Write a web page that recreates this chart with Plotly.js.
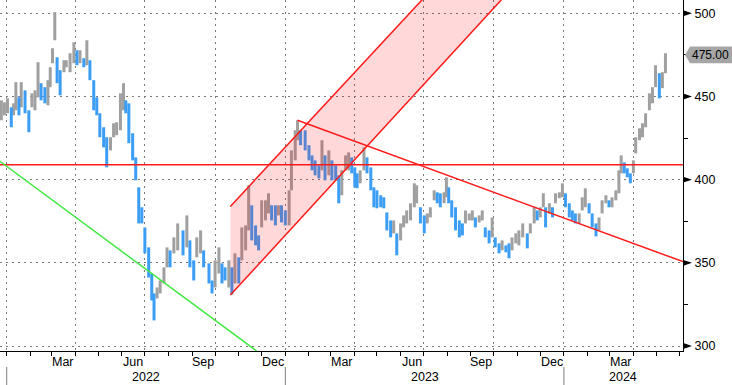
<!DOCTYPE html>
<html><head><meta charset="utf-8">
<script src="https://cdn.plot.ly/plotly-3.0.1.min.js"></script>
<style>html,body{margin:0;padding:0;background:#fff}#chart{width:732px;height:385px}</style>
</head><body><div id="chart"></div>
<script>
// ---- data ----
const dates = [
'2021-12-25','2021-12-29','2022-01-02','2022-01-07','2022-01-10','2022-01-13','2022-01-17','2022-01-20','2022-01-25','2022-01-30',
'2022-02-03','2022-02-07','2022-02-11','2022-02-15','2022-02-20','2022-02-24','2022-02-27','2022-03-02','2022-03-05','2022-03-08',
'2022-03-12','2022-03-17','2022-03-20','2022-03-25','2022-03-30','2022-04-03','2022-04-07','2022-04-12','2022-04-16','2022-04-20',
'2022-04-25','2022-04-29','2022-05-03','2022-05-08','2022-05-12','2022-05-17','2022-05-21','2022-05-25','2022-05-30','2022-06-03',
'2022-06-06','2022-06-10','2022-06-15','2022-06-19','2022-06-23','2022-06-27','2022-07-01','2022-07-06','2022-07-10','2022-07-13',
'2022-07-17','2022-07-21','2022-07-26','2022-07-30','2022-08-03','2022-08-08','2022-08-13','2022-08-20','2022-08-25','2022-08-29',
'2022-09-03','2022-09-07','2022-09-12','2022-09-16','2022-09-23','2022-09-27','2022-10-01','2022-10-06','2022-10-10','2022-10-14',
'2022-10-19','2022-10-23','2022-10-27','2022-11-01','2022-11-05','2022-11-10','2022-11-14','2022-11-18','2022-11-23','2022-11-27',
'2022-12-01','2022-12-06','2022-12-10','2022-12-14','2022-12-19','2022-12-23','2022-12-27','2023-01-01','2023-01-06','2023-01-09',
'2023-01-14','2023-01-17','2023-01-21','2023-01-27','2023-02-01','2023-02-05','2023-02-09','2023-02-14','2023-02-18','2023-02-22',
'2023-02-27','2023-03-03','2023-03-08','2023-03-12','2023-03-16','2023-03-21','2023-03-25','2023-03-29','2023-04-02','2023-04-05',
'2023-04-09','2023-04-14','2023-04-18','2023-04-23','2023-04-27','2023-05-01','2023-05-06','2023-05-10','2023-05-14','2023-05-19',
'2023-05-23','2023-05-27','2023-06-01','2023-06-05','2023-06-09','2023-06-14','2023-06-19','2023-06-22','2023-06-27','2023-07-02',
'2023-07-06','2023-07-10','2023-07-15','2023-07-19','2023-07-23','2023-07-28','2023-07-31','2023-08-03','2023-08-07','2023-08-12',
'2023-08-17','2023-08-21','2023-08-25','2023-08-30','2023-09-03','2023-09-07','2023-09-12','2023-09-16','2023-09-20','2023-09-25',
'2023-09-29','2023-10-03','2023-10-08','2023-10-12','2023-10-17','2023-10-21','2023-10-25','2023-10-30','2023-11-03','2023-11-08',
'2023-11-14','2023-11-18','2023-11-23','2023-11-27','2023-12-01','2023-12-05','2023-12-08','2023-12-13','2023-12-17','2023-12-21',
'2023-12-26','2023-12-30','2024-01-03','2024-01-08','2024-01-12','2024-01-16','2024-01-21','2024-01-25','2024-01-29','2024-02-03',
'2024-02-07','2024-02-12','2024-02-16','2024-02-20','2024-02-25','2024-02-29','2024-03-04','2024-03-09','2024-03-13','2024-03-16',
'2024-03-20','2024-03-24','2024-03-28','2024-04-01','2024-04-04','2024-04-09','2024-04-13','2024-04-17','2024-04-22','2024-04-26',
'2024-04-30','2024-05-05','2024-05-09','2024-05-13'];

const highs = [
447.7,446.5,448.9,443.5,445.9,458.6,449.5,458.6,453.7,441.7,
451.9,453.7,470.6,458.0,455.6,459.8,467.6,479.0,500.7,473.6,
465.8,471.8,471.8,476.0,482.6,477.8,477.8,473.0,483.8,471.8,
459.8,449.5,439.9,431.5,425.5,425.5,433.9,434.5,451.9,458.0,
447.7,445.9,427.9,413.4,395.4,383.4,371.3,359.3,343.6,331.6,
335.2,339.4,347.3,359.3,357.5,365.3,373.7,369.5,378.5,363.5,
351.5,365.3,369.5,357.5,349.7,339.4,351.5,359.3,349.7,347.3,
351.5,347.3,355.7,353.3,371.3,372.5,396.6,384.6,372.5,366.5,
387.6,387.6,391.8,384.6,384.6,384.6,384.6,381.5,393.6,417.6,
429.7,435.7,429.7,429.7,420.7,414.6,411.6,408.6,423.7,414.6,
417.6,411.6,408.6,402.6,405.6,414.6,416.4,413.4,407.4,403.8,
405.6,419.4,413.4,407.4,395.4,393.6,390.6,389.4,380.3,375.5,
375.5,367.7,373.7,378.5,381.5,385.8,397.8,396.6,383.4,378.5,
379.7,383.4,393.6,392.4,391.8,392.4,401.4,395.4,387.6,383.4,
375.5,373.7,381.5,379.7,381.5,377.3,378.5,381.5,371.3,369.5,
377.3,365.3,361.7,363.5,360.5,361.7,365.3,367.7,369.5,373.7,
367.7,373.7,383.4,381.5,383.4,391.8,383.4,385.8,383.4,391.8,
392.4,397.8,391.8,385.8,381.5,379.7,379.7,389.4,394.8,385.8,
379.7,373.7,377.3,387.6,390.6,387.6,389.4,393.6,405.6,414.6,
410.4,406.8,403.8,411.6,425.5,430.9,433.9,439.9,451.9,455.6,
468.8,464.0,464.6,476.0];

const lows = [
435.7,438.7,439.9,431.5,438.7,441.7,438.7,443.5,439.9,428.5,
443.5,441.7,449.5,447.7,445.9,444.7,455.6,470.0,483.8,458.0,
450.7,464.6,467.6,464.6,470.0,468.8,470.0,467.6,468.8,459.8,
441.7,438.7,425.5,419.4,407.4,417.6,425.5,426.7,429.7,441.7,
439.9,421.9,411.6,399.6,373.7,373.7,355.7,341.2,327.4,315.4,
328.6,331.6,337.6,347.3,347.3,355.7,357.5,354.5,359.3,347.3,
339.4,353.3,355.7,347.3,337.6,331.6,335.2,343.6,337.6,339.4,
335.2,331.0,337.6,337.6,351.5,357.5,369.5,363.5,360.5,357.5,
371.3,375.5,379.7,375.5,372.5,378.5,374.3,372.5,372.5,393.6,
411.6,423.7,420.7,417.6,411.6,405.6,402.6,400.8,405.6,399.6,
402.6,399.6,399.6,385.8,390.6,405.6,405.6,403.8,395.4,394.8,
397.8,405.6,403.8,393.6,383.4,382.8,383.4,382.8,369.5,365.3,
367.7,354.5,363.5,371.3,373.7,375.5,383.4,385.8,373.7,367.7,
373.7,377.3,387.6,385.8,383.4,385.8,389.4,385.8,377.3,369.5,
365.3,366.5,373.7,375.5,375.5,371.3,374.3,375.5,365.3,361.7,
365.3,359.3,355.7,357.5,356.3,352.7,357.5,361.7,360.5,365.3,
358.7,367.7,373.7,375.5,377.3,383.4,371.3,379.7,377.3,385.8,
388.8,389.4,383.4,377.3,375.5,373.7,373.7,381.5,383.4,379.7,
371.3,365.9,369.5,379.7,385.8,383.4,383.4,387.6,391.8,403.8,
403.8,401.4,397.8,403.8,415.8,423.7,425.5,431.5,441.7,445.9,
455.6,448.9,455.0,464.0];

const lastPrice = 475.00;
const yTicks = [300, 350, 400, 450, 500];
const monthLabels = ['Mar','Jun','Sep','Dec','Mar','Jun','Sep','Dec','Mar'];
const monthLabelDates = ['2022-03-16','2022-06-16','2022-09-15','2022-12-16','2023-03-16','2023-06-16','2023-09-15','2023-12-16','2024-03-16'];
const yearLabels = ['2022','2023','2024'];
const yearStarts = ['2022-01-01','2023-01-01','2024-01-01','2025-01-01'];
const xRange = ['2021-12-23 05:00','2024-06-05 00:00'];
const yRange = [297, 508];

const channelDates = ['2022-10-21','2023-12-31'];
const channelUpper = [383.9, 599.5];
const channelLower = [330.6, 548.6];
const resistDates = ['2023-01-17','2024-06-05'];
const resistValues = [435.7, 350.7];
const levelDates = ['2021-12-01','2024-06-30'];
const levelValues = [409, 409];
const supportDates = ['2021-12-01','2022-12-31'];
const supportValues = [418.5, 284.6];

// ---- build ----
const FONT = 'Liberation Sans, Arial, sans-serif';
const BLUE = '#3c9df5', GRAY = '#a0a0a0', RED = '#ff1a1a', GREEN = '#44e844';

const upBars = {x: [], y: []}, dnBars = {x: [], y: []};
for (let i = 0; i < dates.length; i++) {
  const mid = (highs[i] + lows[i]) / 2;
  const prev = i > 0 ? (highs[i-1] + lows[i-1]) / 2 : mid;
  const t = mid < prev ? dnBars : upBars;
  t.x.push(dates[i], dates[i], null);
  t.y.push(lows[i], highs[i], null);
}

const common = {type: 'scatter', mode: 'lines', hoverinfo: 'skip', showlegend: false};
const traces = [
  Object.assign({}, common, {x: upBars.x, y: upBars.y, line: {color: GRAY, width: 3}, connectgaps: false}),
  Object.assign({}, common, {x: dnBars.x, y: dnBars.y, line: {color: BLUE, width: 3}, connectgaps: false}),
  Object.assign({}, common, {
    x: [channelDates[0], channelDates[1], channelDates[1], channelDates[0]],
    y: [channelUpper[0], channelUpper[1], channelLower[1], channelLower[0]],
    fill: 'toself', fillcolor: 'rgba(255,0,0,0.15)', line: {width: 0}
  }),
  Object.assign({}, common, {x: channelDates, y: channelUpper, line: {color: RED, width: 1.5}}),
  Object.assign({}, common, {x: channelDates, y: channelLower, line: {color: RED, width: 1.5}}),
  Object.assign({}, common, {x: resistDates, y: resistValues, line: {color: RED, width: 1.5}}),
  Object.assign({}, common, {x: levelDates, y: levelValues, line: {color: RED, width: 1.6}}),
  Object.assign({}, common, {x: supportDates, y: supportValues, line: {color: GREEN, width: 1.5}})
];

const PW = 683, PH = 351;
const unitsPerPx = (yRange[1] - yRange[0]) / PH;
const shapes = [];
// triangle markers on the right axis
yTicks.forEach(v => {
  const h = 2.7 * unitsPerPx;
  shapes.push({type: 'path', xref: 'paper', yref: 'y', layer: 'above',
    path: `M ${1 + 1/PW},${v + h} L ${1 + 1/PW},${v - h} L ${1 + 9/PW},${v} Z`,
    fillcolor: '#000', line: {width: 0}});
});
// last price tag
{
  const h = 8.3 * unitsPerPx;
  shapes.push({type: 'path', xref: 'paper', yref: 'y', layer: 'above',
    path: `M ${1 + 2/PW},${lastPrice} L ${1 + 7/PW},${lastPrice + h} L ${1 + 60/PW},${lastPrice + h} L ${1 + 60/PW},${lastPrice - h} L ${1 + 7/PW},${lastPrice - h} Z`,
    fillcolor: '#a6a6a6', line: {width: 0}});
}
// year separators
yearStarts.slice(0, 3).forEach(d => {
  shapes.push({type: 'line', xref: 'x', yref: 'paper', x0: d, x1: d,
    y0: -16/PH, y1: -34/PH, line: {color: '#808080', width: 1}});
});

const annotations = [];
monthLabels.forEach((m, i) => {
  annotations.push({xref: 'x', yref: 'paper', x: monthLabelDates[i], y: 0, yanchor: 'middle', xanchor: 'center',
    yshift: -11, showarrow: false, text: m, font: {family: FONT, size: 12.5, color: '#000'}});
});
const r0 = new Date(xRange[0].replace(' ', 'T') + 'Z').getTime();
const r1 = new Date(xRange[1].replace(' ', 'T') + 'Z').getTime();
yearLabels.forEach((y, i) => {
  const a = Math.max(new Date(yearStarts[i] + 'T00:00Z').getTime(), r0);
  const b = Math.min(new Date(yearStarts[i+1] + 'T00:00Z').getTime(), r1);
  const c = new Date((a + b) / 2).toISOString().slice(0, 19).replace('T', ' ');
  annotations.push({xref: 'x', yref: 'paper', x: c, y: 0, yanchor: 'middle', xanchor: 'center',
    yshift: -26, showarrow: false, text: y, font: {family: FONT, size: 12.5, color: '#000'}});
});
annotations.push({xref: 'paper', yref: 'y', x: 1 + 27/PW, y: lastPrice, xanchor: 'center', yanchor: 'middle',
  showarrow: false, text: lastPrice.toFixed(2), font: {family: FONT, size: 12, color: '#000'}});

const layout = {
  width: 732, height: 385,
  margin: {l: 0, r: 732 - PW, t: 0, b: 385 - PH},
  paper_bgcolor: '#fff', plot_bgcolor: '#fff',
  showlegend: false,
  font: {family: FONT, size: 12.5, color: '#000'},
  xaxis: {
    type: 'date', range: xRange, tick0: '2022-01-01', dtick: 'M3',
    ticks: 'outside', ticklen: 4, tickcolor: '#000', tickwidth: 1,
    showticklabels: false,
    showgrid: true, gridcolor: '#7a7a7a', griddash: '2px,4px', gridwidth: 1,
    showline: true, linecolor: '#000', linewidth: 1, zeroline: false,
    minor: {dtick: 'M1', tick0: '2022-01-01', ticks: 'outside', ticklen: 4, tickcolor: '#000', showgrid: false},
    fixedrange: true
  },
  yaxis: {
    side: 'right', range: yRange, tickvals: yTicks, ticktext: yTicks.map(String),
    ticks: '', showgrid: true, gridcolor: '#7a7a7a', griddash: '2px,4px', gridwidth: 1,
    showline: true, linecolor: '#000', linewidth: 1, zeroline: false,
    ticklabelstandoff: 8,
    tickfont: {family: FONT, size: 12.5, color: '#000'},
    minor: {dtick: 25, tick0: 300, ticks: 'outside', ticklen: 4, tickcolor: '#000', showgrid: false},
    fixedrange: true
  },
  shapes: shapes,
  annotations: annotations
};

Plotly.newPlot('chart', traces, layout, {staticPlot: true, displayModeBar: false});
</script>
</body></html>
